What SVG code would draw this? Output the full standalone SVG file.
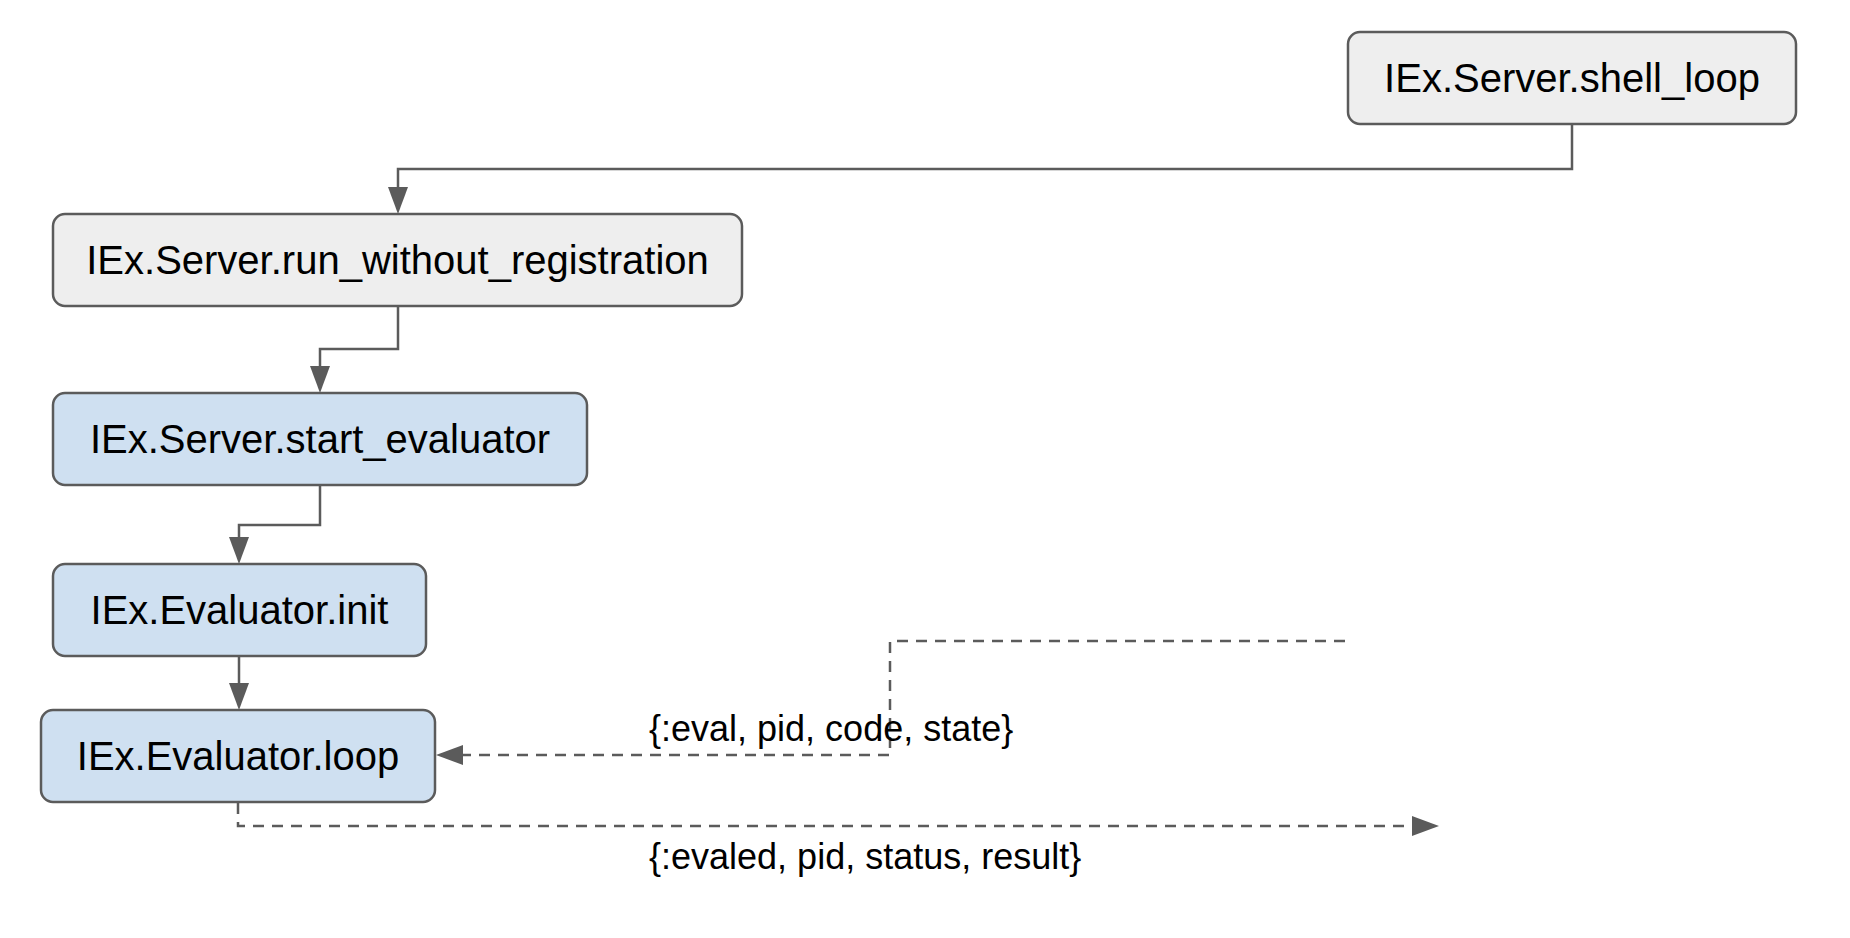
<svg xmlns="http://www.w3.org/2000/svg" width="1850" height="938" viewBox="0 0 1850 938">
  <style>
    .box { stroke: #5b5b5b; stroke-width: 2.5; }
    .gray { fill: #eeeeee; }
    .blue { fill: #cfe0f1; }
    .ntext { font-family: "Liberation Sans", Arial, Helvetica, sans-serif; font-size: 40px; fill: #000000; text-anchor: middle; }
    .ltext { font-family: "Liberation Sans", Arial, Helvetica, sans-serif; font-size: 36px; fill: #000000; }
    .edge { fill: none; stroke: #5b5b5b; stroke-width: 2.5; }
    .dashed { stroke-dasharray: 11 8; }
  </style>
  <defs>
    <marker id="arrow" viewBox="0 0 27 20" refX="0" refY="10" markerWidth="27" markerHeight="20" markerUnits="userSpaceOnUse" orient="auto">
      <path d="M0,0 L27,10 L0,20 z" fill="#5b5b5b"/>
    </marker>
  </defs>
  <rect width="1850" height="938" fill="#ffffff"/>

  <g id="connectors">
    <path class="edge" d="M1572,125 V169 H398 V187" marker-end="url(#arrow)"/>
    <path class="edge" d="M398,307 V349 H320 V366" marker-end="url(#arrow)"/>
    <path class="edge" d="M320,486 V525 H239 V537" marker-end="url(#arrow)"/>
    <path class="edge" d="M239,657 V683" marker-end="url(#arrow)"/>
    <path class="edge dashed" d="M1345,641 H890 V755 H463" marker-end="url(#arrow)"/>
    <path class="edge dashed" d="M238,803 V826 H1412" marker-end="url(#arrow)"/>
    <text class="ltext" x="649" y="741">{:eval, pid, code, state}</text>
    <text class="ltext" x="649" y="869">{:evaled, pid, status, result}</text>
  </g>

  <g id="shell_loop">
    <rect class="box gray" x="1348" y="32" width="448" height="92" rx="12"/>
    <text class="ntext" x="1572" y="92">IEx.Server.shell_loop</text>
  </g>
  <g id="run_without_registration">
    <rect class="box gray" x="53" y="214" width="689" height="92" rx="12"/>
    <text class="ntext" x="397.5" y="274">IEx.Server.run_without_registration</text>
  </g>
  <g id="start_evaluator">
    <rect class="box blue" x="53" y="393" width="534" height="92" rx="12"/>
    <text class="ntext" x="320" y="453">IEx.Server.start_evaluator</text>
  </g>
  <g id="evaluator_init">
    <rect class="box blue" x="53" y="564" width="373" height="92" rx="12"/>
    <text class="ntext" x="239.5" y="624">IEx.Evaluator.init</text>
  </g>
  <g id="evaluator_loop">
    <rect class="box blue" x="41" y="710" width="394" height="92" rx="12"/>
    <text class="ntext" x="238" y="770">IEx.Evaluator.loop</text>
  </g>
</svg>
